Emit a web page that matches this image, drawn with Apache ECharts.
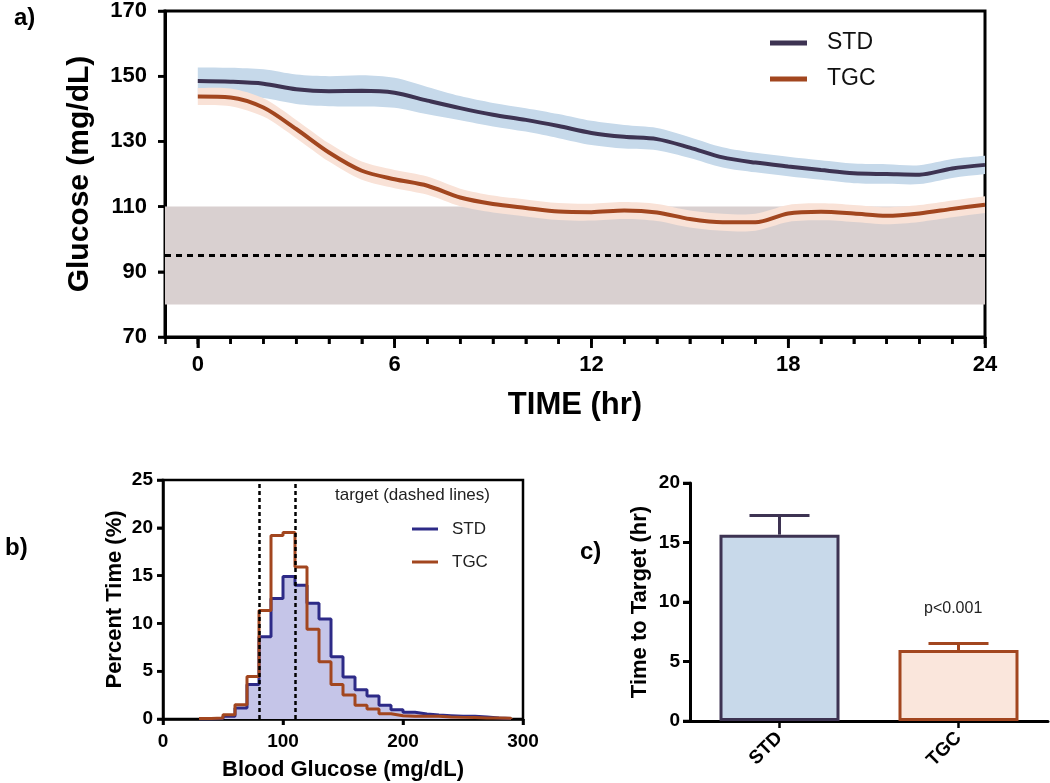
<!DOCTYPE html>
<html>
<head>
<meta charset="utf-8">
<script src="https://cdn.jsdelivr.net/npm/echarts@6/dist/echarts.min.js"></script>
<style>
html, body { margin: 0; padding: 0; background: #fff; }
#chart { width: 1050px; height: 783px; }
</style>
</head>
<body>
<div id="chart"></div>
<script>
// a) mean glucose over 24 h, with error band
const hours = [0,1,2,3,4,5,6,7,8,9,10,11,12,13,14,15,16,17,18,19,20,21,22,23,24];
const stdMean = [148.5,148.3,147.7,146.0,145.4,145.5,144.9,142.5,140.2,138.2,136.6,134.7,132.6,131.4,130.7,128.1,125.1,123.5,122.3,121.2,120.2,120.0,119.8,121.7,122.8];
const stdErr  = [4.2,4.3,4.4,4.5,4.6,4.8,4.6,4.2,3.7,3.6,3.6,3.7,3.7,3.6,3.4,3.2,3.1,3.0,3.0,3.0,3.0,3.0,2.9,2.9,2.8];
const tgcMean = [143.8,143.5,140.4,133.8,126.6,121.0,118.4,116.4,112.8,110.8,109.6,108.5,108.3,108.8,108.2,106.2,105.2,105.2,107.9,108.4,107.9,107.2,107.9,109.3,110.6];
const tgcErr  = [2.6,2.7,2.8,2.8,2.8,2.8,2.8,2.8,2.7,2.6,2.6,2.6,2.6,2.6,2.6,2.6,2.6,2.6,2.6,2.6,2.6,2.6,2.6,2.6,2.6];
const timeTicks = [0,6,12,18,24];
const glucoseTicks = [70,90,110,130,150,170];
const timeMin = -1, timeMax = 24;
const targetLow = 80, targetHigh = 110, targetMid = 95;

// b) histogram of blood glucose (bins of 10 mg/dL)
const binStart = [30,40,50,60,70,80,90,100,110,120,130,140,150,160,170,180,190,200,210,220,230,240,250,260,270,280];
const binWidth = 10;
const stdPct = [0,0.05,0.3,1.15,3.6,8.6,12.6,14.9,14.0,12.1,10.45,6.5,4.4,3.06,2.4,1.43,0.97,0.7,0.52,0.42,0.35,0.28,0.28,0.2,0.1,0.05];
const tgcPct = [0.05,0.1,0.45,1.5,4.45,11.35,19.2,19.5,15.9,9.4,6.0,3.6,2.5,1.43,1.04,0.55,0.35,0.28,0.28,0.28,0.2,0.17,0.15,0.1,0.1,0.08];
const targetEdges = [80, 110];
const histXTicks = [0,100,200,300];
const histYTicks = [0,5,10,15,20,25];

// c) time to target
const groups = ['STD', 'TGC'];
const timeToTarget = [15.66, 5.96];
const timeErr = [1.6, 0.56];
const barYTicks = [0,5,10,15,20];

const FONT = "'Liberation Sans', Arial, sans-serif";
const STD_LINE = '#3d3352', STD_BAND = '#c6d9ea';
const TGC_LINE = '#a2461f', TGC_BAND = '#f9e2d7';
const HIST_STD = '#2d2a87', HIST_FILL = '#c5c5e8';

const pts = (xs, ys) => xs.map((x, i) => [x, ys[i]]);
const bandPts = (mean, err) => hours.map((h, i) => [h, mean[i] - err[i], mean[i] + err[i]]);
const stepPts = ys => binStart.map((x, i) => [x, ys[i]]).concat([[binStart[binStart.length - 1] + binWidth, 0]]);
// category overlay for the time axis: one slot per hour, from timeMin to timeMax
const hourSlots = [timeMin].concat(hours).map(String);
const isMajor = (idx, val) => timeTicks.indexOf(Number(val)) >= 0;

// one smoothed polygon between the lower and upper edge of the band
function bandRenderer(color) {
  return function (params, api) {
    if (params.dataIndexInside !== 0) return;
    const upper = [], lower = [];
    for (let i = 0; i < params.dataInsideLength; i++) {
      upper.push(api.coord([api.value(0, i), api.value(2, i)]));
      lower.push(api.coord([api.value(0, i), api.value(1, i)]));
    }
    lower.reverse();
    // doubled corner points keep the ends square
    const ring = [upper[0]].concat(upper, [upper[upper.length - 1], lower[0]], lower, [lower[lower.length - 1]]);
    return {
      type: 'polygon',
      shape: { points: ring, smooth: 0.3 },
      style: { fill: color }
    };
  };
}

// outward tick marks on the bottom ('x') or left ('y') edge of a grid
function tickSeries(xIdx, yIdx, values, dir, len) {
  return {
    type: 'custom', xAxisIndex: xIdx, yAxisIndex: yIdx, silent: true, clip: false, z: 5,
    data: values.map(v => [v]),
    encode: dir === 'x' ? { x: 0 } : { y: 0 },
    renderItem: function (params, api) {
      const rect = params.coordSys;
      const v = api.value(0);
      let shape;
      if (dir === 'x') {
        const x = api.coord([v, 0])[0], y = rect.y + rect.height;
        shape = { x1: x, y1: y, x2: x, y2: y + len };
      } else {
        const y = api.coord([0, v])[1], x = rect.x;
        shape = { x1: x - len, y1: y, x2: x, y2: y };
      }
      return { type: 'line', shape: shape, style: { stroke: '#000', lineWidth: 2.5 } };
    }
  };
}

const chart = echarts.init(document.getElementById('chart'));

const boldLabel = size => ({ color: '#000', fontWeight: 'bold', fontSize: size, fontFamily: FONT });

chart.setOption({
  animation: false,
  backgroundColor: '#fff',
  textStyle: { fontFamily: FONT },
  grid: [
    { left: 165, top: 10, width: 820, height: 327, show: true, borderColor: '#000', borderWidth: 3, backgroundColor: 'transparent' },
    { left: 163, top: 480, width: 360, height: 239, show: true, borderColor: '#000', borderWidth: 2.5, backgroundColor: 'transparent' },
    { left: 690, top: 483, width: 358, height: 238 }
  ],
  xAxis: [
    { // value scale used by the series
      type: 'value', gridIndex: 0, min: timeMin, max: timeMax, position: 'bottom',
      axisLine: { show: false, onZero: false }, axisTick: { show: false },
      axisLabel: { show: false }, splitLine: { show: false }
    },
    { // hourly ticks + axis line
      type: 'category', gridIndex: 0, data: hourSlots, boundaryGap: false, position: 'bottom',
      axisLine: { show: true, onZero: false, lineStyle: { color: '#000', width: 3 } },
      axisTick: { show: true, interval: 0, length: 7, lineStyle: { color: '#000', width: 2.5 } },
      axisLabel: { show: false }, splitLine: { show: false }
    },
    { // long ticks and labels every 6 h
      type: 'category', gridIndex: 0, data: hourSlots, boundaryGap: false, position: 'bottom',
      axisLine: { show: false, onZero: false },
      axisTick: { show: true, interval: isMajor, length: 11, lineStyle: { color: '#000', width: 2.5 } },
      axisLabel: Object.assign(boldLabel(22), { margin: 17, interval: isMajor }),
      splitLine: { show: false },
      name: 'TIME (hr)', nameLocation: 'middle', nameGap: 53,
      nameTextStyle: boldLabel(31)
    },
    {
      type: 'value', gridIndex: 1, min: 0, max: 300, interval: 100,
      axisLine: { show: true, onZero: false, lineStyle: { color: '#000', width: 2.5 } },
      axisTick: { show: true, length: 6, lineStyle: { color: '#000', width: 2.5 } },
      axisLabel: Object.assign(boldLabel(19), { margin: 13 }),
      splitLine: { show: false },
      name: 'Blood Glucose (mg/dL)', nameLocation: 'middle', nameGap: 40,
      nameTextStyle: boldLabel(22)
    },
    {
      type: 'category', gridIndex: 2, data: groups,
      axisLine: { lineStyle: { color: '#000', width: 3 } },
      axisTick: { alignWithLabel: true, length: 7, lineStyle: { color: '#000', width: 3 } },
      axisLabel: Object.assign(boldLabel(19), { rotate: 45, margin: 14 })
    }
  ],
  yAxis: [
    {
      type: 'value', gridIndex: 0, min: 70, max: 170, interval: 20,
      axisLine: { show: true, onZero: false, lineStyle: { color: '#000', width: 3 } },
      axisTick: { show: true, length: 7, lineStyle: { color: '#000', width: 2.5 } },
      axisLabel: Object.assign(boldLabel(22), { margin: 18 }),
      splitLine: { show: false },
      name: 'Glucose (mg/dL)', nameLocation: 'middle', nameGap: 70,
      nameTextStyle: boldLabel(30)
    },
    {
      type: 'value', gridIndex: 1, min: 0, max: 25, interval: 5,
      axisLine: { show: true, onZero: false, lineStyle: { color: '#000', width: 2.5 } },
      axisTick: { show: true, length: 6, lineStyle: { color: '#000', width: 2.5 } },
      axisLabel: Object.assign(boldLabel(19), { margin: 10 }),
      splitLine: { show: false },
      name: 'Percent Time (%)', nameLocation: 'middle', nameGap: 37,
      nameTextStyle: boldLabel(22)
    },
    {
      type: 'value', gridIndex: 2, min: 0, max: 20, interval: 5,
      axisLine: { show: true, onZero: false, lineStyle: { color: '#000', width: 3 } },
      axisTick: { show: true, length: 7, lineStyle: { color: '#000', width: 3 } },
      axisLabel: Object.assign(boldLabel(19), { margin: 10 }),
      splitLine: { show: false },
      name: 'Time to Target (hr)', nameLocation: 'middle', nameGap: 39,
      nameTextStyle: boldLabel(22)
    }
  ],
  legend: [
    {
      left: 770, top: 31, padding: 0, orient: 'vertical', itemWidth: 37, itemHeight: 5, itemGap: 12,
      textStyle: { color: '#111', fontSize: 23, lineHeight: 24, fontFamily: FONT, padding: [0, 0, 0, 15] },
      selectedMode: false,
      data: [
        { name: 'STD', icon: 'rect', itemStyle: { color: STD_LINE } },
        { name: 'TGC', icon: 'rect', itemStyle: { color: TGC_LINE } }
      ]
    },
    {
      left: 412, top: 520, padding: 0, orient: 'vertical', itemWidth: 26, itemHeight: 3, itemGap: 15,
      textStyle: { color: '#222', fontSize: 17, lineHeight: 18, fontFamily: FONT, padding: [0, 0, 0, 9] },
      selectedMode: false,
      data: [
        { name: 'STD', icon: 'rect', itemStyle: { color: HIST_STD } },
        { name: 'TGC', icon: 'rect', itemStyle: { color: TGC_LINE } }
      ]
    }
  ],
  graphic: [
    { type: 'text', left: 14, top: 6, style: { text: 'a)', font: 'bold 24px ' + FONT, fill: '#000' } },
    { type: 'text', left: 5, top: 536, style: { text: 'b)', font: 'bold 24px ' + FONT, fill: '#000' } },
    { type: 'text', left: 580, top: 540, style: { text: 'c)', font: 'bold 24px ' + FONT, fill: '#000' } },
    { type: 'text', left: 335, top: 487, style: { text: 'target (dashed lines)', font: '17px ' + FONT, fill: '#222' } },
    { type: 'text', left: 924, top: 601, style: { text: 'p<0.001', font: '16px ' + FONT, fill: '#222' } }
  ],
  series: [
    // target range and midline (carrier series is invisible)
    {
      name: 'target', type: 'line', xAxisIndex: 0, yAxisIndex: 0, z: 1,
      data: pts(hours, stdMean), symbol: 'none', lineStyle: { width: 0, opacity: 0 }, silent: true,
      markArea: {
        silent: true,
        itemStyle: { color: '#d9d0d0' },
        data: [[{ yAxis: targetLow }, { yAxis: targetHigh }]]
      },
      markLine: {
        silent: true, symbol: 'none', label: { show: false },
        lineStyle: { color: '#000', width: 3, type: [6, 5] },
        data: [{ yAxis: targetMid }]
      }
    },
    {
      name: 'stdBand', type: 'custom', xAxisIndex: 0, yAxisIndex: 0, z: 2, silent: true,
      data: bandPts(stdMean, stdErr), encode: { x: 0, y: [1, 2] },
      renderItem: bandRenderer(STD_BAND)
    },
    {
      name: 'tgcBand', type: 'custom', xAxisIndex: 0, yAxisIndex: 0, z: 2, silent: true,
      data: bandPts(tgcMean, tgcErr), encode: { x: 0, y: [1, 2] },
      renderItem: bandRenderer(TGC_BAND)
    },
    {
      name: 'STD', type: 'line', xAxisIndex: 0, yAxisIndex: 0, z: 3,
      data: pts(hours, stdMean), smooth: 0.3, symbol: 'none',
      lineStyle: { color: STD_LINE, width: 4 }, itemStyle: { color: STD_LINE }
    },
    {
      name: 'TGC', type: 'line', xAxisIndex: 0, yAxisIndex: 0, z: 3,
      data: pts(hours, tgcMean), smooth: 0.3, symbol: 'none',
      lineStyle: { color: TGC_LINE, width: 4 }, itemStyle: { color: TGC_LINE }
    },
    // b) histogram
    {
      name: 'STD', type: 'line', xAxisIndex: 3, yAxisIndex: 1, z: 2,
      data: stepPts(stdPct), step: 'end', symbol: 'none',
      lineStyle: { color: HIST_STD, width: 3 }, itemStyle: { color: HIST_STD },
      areaStyle: { color: HIST_FILL, opacity: 1 }
    },
    {
      name: 'TGC', type: 'line', xAxisIndex: 3, yAxisIndex: 1, z: 3,
      data: stepPts(tgcPct), step: 'end', symbol: 'none',
      lineStyle: { color: TGC_LINE, width: 3 }, itemStyle: { color: TGC_LINE },
      markLine: {
        silent: true, symbol: 'none', label: { show: false },
        lineStyle: { color: '#000', width: 2.5, type: [4, 3] },
        data: targetEdges.map(v => ({ xAxis: v }))
      }
    },
    // c) bars with error bars
    {
      name: 'time', type: 'bar', xAxisIndex: 4, yAxisIndex: 2, barWidth: 120,
      data: timeToTarget.map((v, i) => ({
        value: v,
        itemStyle: i === 0
          ? { color: '#c8d9ea', borderColor: STD_LINE, borderWidth: 3 }
          : { color: '#fae6dc', borderColor: TGC_LINE, borderWidth: 3 }
      }))
    },
    {
      name: 'timeErr', type: 'custom', xAxisIndex: 4, yAxisIndex: 2, z: 3,
      data: timeToTarget.map((v, i) => [i, v, timeErr[i]]),
      renderItem: function (params, api) {
        const base = api.coord([api.value(0), api.value(1)]);
        const top = api.coord([api.value(0), api.value(1) + api.value(2)]);
        const color = params.dataIndex === 0 ? STD_LINE : TGC_LINE;
        return {
          type: 'group',
          children: [
            { type: 'line', shape: { x1: base[0], y1: base[1], x2: top[0], y2: top[1] }, style: { stroke: color, lineWidth: 3 } },
            { type: 'line', shape: { x1: top[0] - 30, y1: top[1], x2: top[0] + 30, y2: top[1] }, style: { stroke: color, lineWidth: 3 } }
          ]
        };
      }
    },
    // tick marks drawn along each axis through its own scale
    tickSeries(0, 0, hours, 'x', 7),
    tickSeries(0, 0, timeTicks, 'x', 11),
    tickSeries(0, 0, glucoseTicks, 'y', 7),
    tickSeries(3, 1, histXTicks, 'x', 6),
    tickSeries(3, 1, histYTicks, 'y', 6),
    tickSeries(4, 2, [0, 1], 'x', 7),
    tickSeries(4, 2, barYTicks, 'y', 7)
  ]
});
</script>
</body>
</html>
